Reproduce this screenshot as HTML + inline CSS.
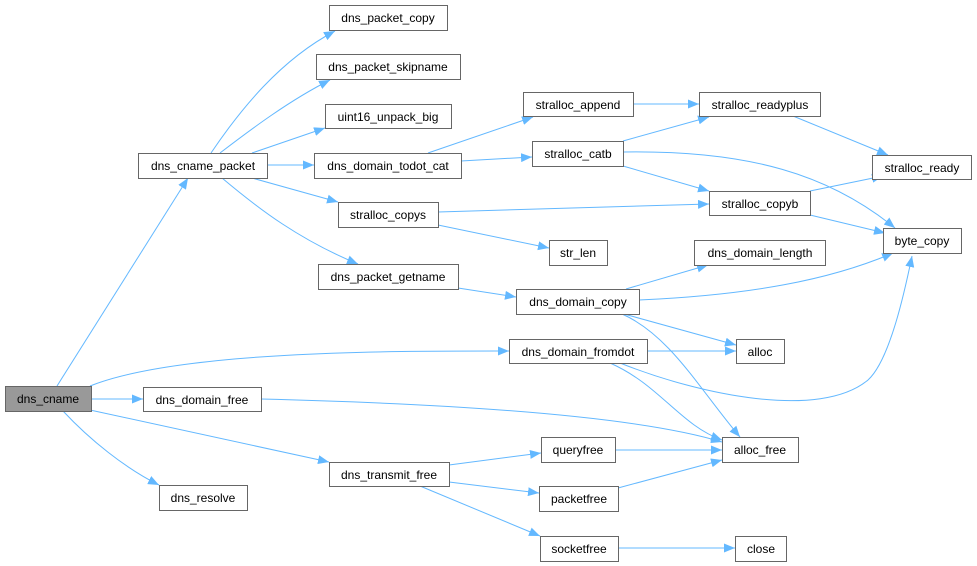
<!DOCTYPE html>
<html><head><meta charset="utf-8"><style>
html,body{margin:0;padding:0;background:#fff;width:977px;height:566px;overflow:hidden}
text{font-family:"Liberation Sans",Arial,sans-serif;font-size:12px;fill:#000}
</style></head><body>
<svg width="977" height="566" viewBox="0 0 977 566" xmlns="http://www.w3.org/2000/svg">
<defs><marker id="a" markerUnits="userSpaceOnUse" markerWidth="12" markerHeight="9" refX="11" refY="4.5" orient="auto"><path d="M0,0 L11,4.5 L0,9 z" fill="#63b8ff"/></marker></defs>
<g fill="none" stroke="#63b8ff" stroke-width="1" marker-end="url(#a)">
<path d="M57,386 L188,178"/>
<path d="M90,386 C180,350 400,351 509,351"/>
<path d="M92,399 L143,399"/>
<path d="M90,410 L329,462"/>
<path d="M63,411 C90,440 125,468 159,485"/>
<path d="M211,153 C240,110 280,60 335,31"/>
<path d="M220,153 C250,130 290,100 330,80"/>
<path d="M252,153 L325,128"/>
<path d="M267,165 L314,165"/>
<path d="M252,178 L338,202"/>
<path d="M222,178 C260,210 300,240 358,264"/>
<path d="M428,153 L533,117"/>
<path d="M461,161 L532,157"/>
<path d="M633,104 L699,104"/>
<path d="M623,141 L709,117"/>
<path d="M623,152 C750,150 830,175 895,228"/>
<path d="M623,166 L709,191"/>
<path d="M793,116 L888,155"/>
<path d="M810,191 L883,176"/>
<path d="M810,215 L885,233"/>
<path d="M438,212 L709,204"/>
<path d="M438,225 L549,248"/>
<path d="M458,288 L516,297"/>
<path d="M626,289 L708,265"/>
<path d="M639,300 C750,295 830,280 893,253"/>
<path d="M624,314 L736,345"/>
<path d="M622,314 C670,335 700,390 740,437"/>
<path d="M647,351 L736,351"/>
<path d="M610,363 C660,385 680,425 722,440"/>
<path d="M620,363 C700,395 820,420 868,380 C890,360 905,290 912,256"/>
<path d="M261,399 C500,405 650,420 722,442"/>
<path d="M449,465 L541,453"/>
<path d="M449,482 L539,493"/>
<path d="M420,486 L540,536"/>
<path d="M615,450 L722,450"/>
<path d="M618,488 L722,460"/>
<path d="M618,548 L735,548"/>
</g>
<g stroke="#666" stroke-width="1" fill="#fff">
<rect x="5.5" y="386.5" width="86" height="25" fill="#999"/>
<rect x="138.5" y="153.5" width="129" height="25"/>
<rect x="143.5" y="387.5" width="118" height="24"/>
<rect x="159.5" y="485.5" width="88" height="25"/>
<rect x="329.5" y="462.5" width="120" height="24"/>
<rect x="509.5" y="339.5" width="138" height="24"/>
<rect x="736.5" y="339.5" width="48" height="24"/>
<rect x="722.5" y="437.5" width="76" height="25"/>
<rect x="541.5" y="437.5" width="74" height="25"/>
<rect x="539.5" y="486.5" width="79" height="25"/>
<rect x="540.5" y="536.5" width="78" height="25"/>
<rect x="735.5" y="536.5" width="51" height="25"/>
<rect x="329.5" y="5.5" width="118" height="25"/>
<rect x="316.5" y="54.5" width="144" height="25"/>
<rect x="325.5" y="104.5" width="126" height="24"/>
<rect x="314.5" y="153.5" width="147" height="25"/>
<rect x="338.5" y="202.5" width="100" height="25"/>
<rect x="318.5" y="264.5" width="140" height="25"/>
<rect x="523.5" y="92.5" width="110" height="24"/>
<rect x="699.5" y="92.5" width="121" height="24"/>
<rect x="532.5" y="141.5" width="91" height="25"/>
<rect x="872.5" y="155.5" width="99" height="24"/>
<rect x="709.5" y="191.5" width="101" height="24"/>
<rect x="883.5" y="228.5" width="78" height="25"/>
<rect x="549.5" y="240.5" width="58" height="25"/>
<rect x="694.5" y="240.5" width="131" height="25"/>
<rect x="516.5" y="289.5" width="123" height="25"/>
</g>
<g text-anchor="middle">
<text x="48" y="403">dns_cname</text>
<text x="203" y="170">dns_cname_packet</text>
<text x="202" y="404">dns_domain_free</text>
<text x="203" y="502">dns_resolve</text>
<text x="389" y="479">dns_transmit_free</text>
<text x="578" y="356">dns_domain_fromdot</text>
<text x="760" y="356">alloc</text>
<text x="760" y="454">alloc_free</text>
<text x="578" y="454">queryfree</text>
<text x="579" y="503">packetfree</text>
<text x="579" y="553">socketfree</text>
<text x="761" y="553">close</text>
<text x="388" y="22">dns_packet_copy</text>
<text x="388" y="71">dns_packet_skipname</text>
<text x="388" y="121">uint16_unpack_big</text>
<text x="388" y="170">dns_domain_todot_cat</text>
<text x="388" y="219">stralloc_copys</text>
<text x="388" y="281">dns_packet_getname</text>
<text x="578" y="109">stralloc_append</text>
<text x="760" y="109">stralloc_readyplus</text>
<text x="578" y="158">stralloc_catb</text>
<text x="922" y="172">stralloc_ready</text>
<text x="760" y="208">stralloc_copyb</text>
<text x="922" y="245">byte_copy</text>
<text x="578" y="257">str_len</text>
<text x="760" y="257">dns_domain_length</text>
<text x="578" y="306">dns_domain_copy</text>
</g>
</svg>
</body></html>
